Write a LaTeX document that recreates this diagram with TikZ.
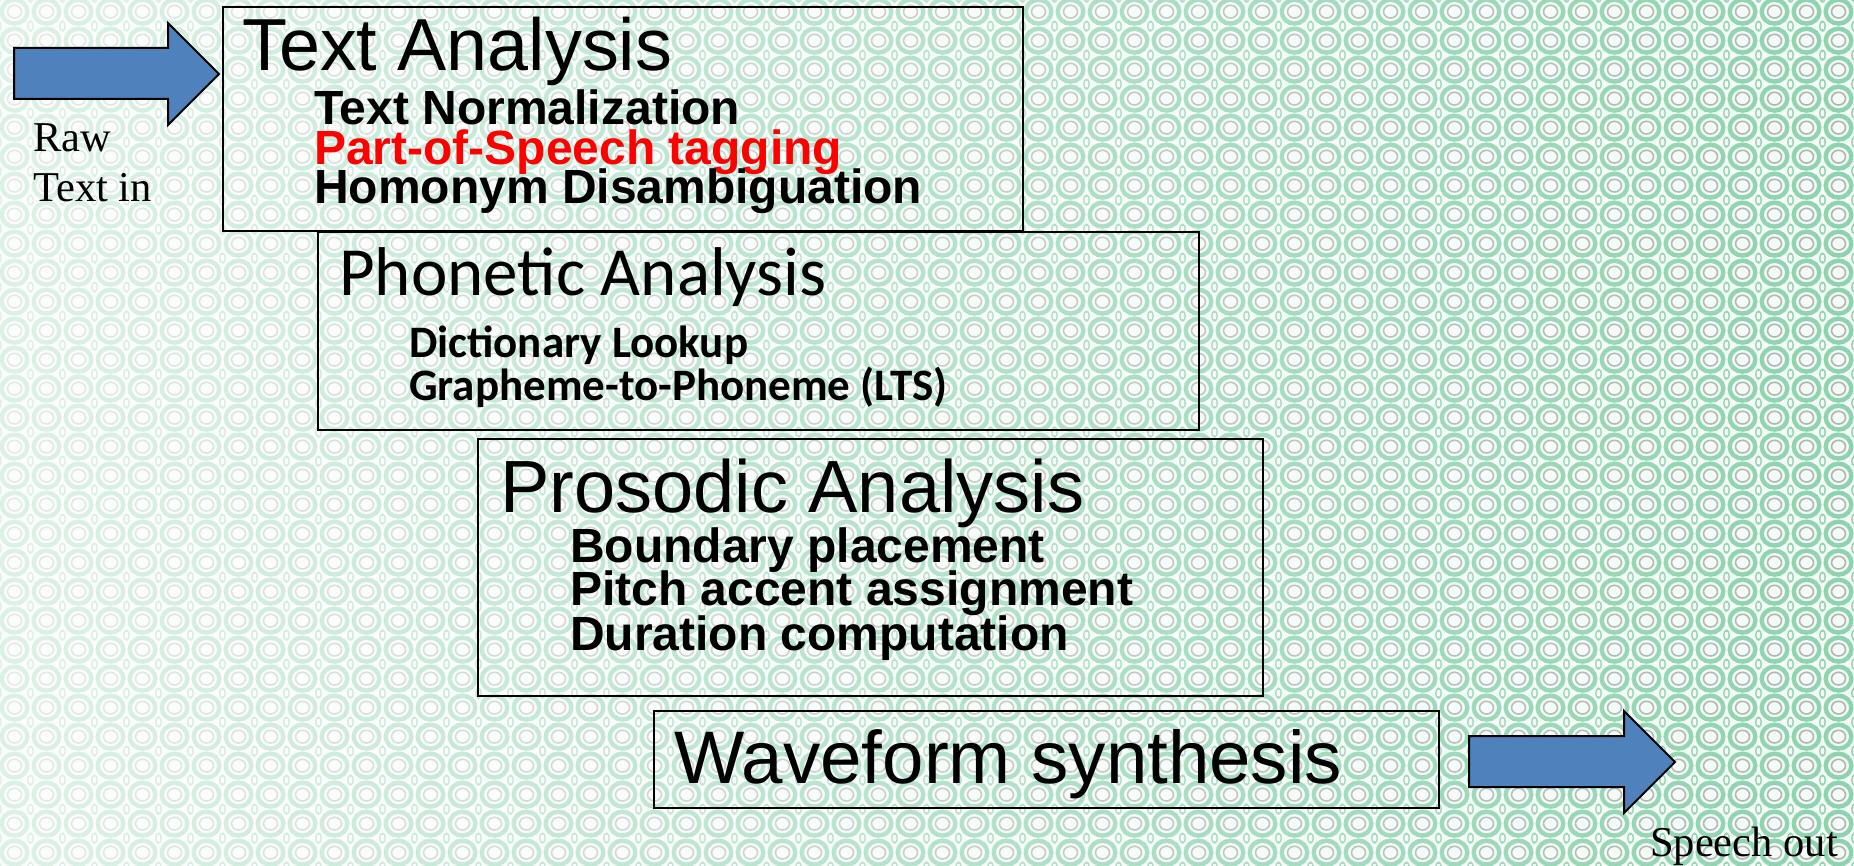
\documentclass[tikz,border=0pt]{standalone}
\usepackage{fontspec}
\usetikzlibrary{fadings,patterns}
\newfontfamily\arialf{Liberation Sans}
\newfontfamily\calibrif{Carlito}
\newfontfamily\timesf{Liberation Serif}
\definecolor{bgbase}{HTML}{F4FBF7}
\definecolor{ringgreen}{HTML}{8ED3AF}
\definecolor{ringgrey}{HTML}{AAB6B0}
\definecolor{arrowblue}{HTML}{4F81BD}
\definecolor{redtxt}{HTML}{FF0000}
\pgfdeclarepatterninherentlycolored{ringtile}{\pgfpointorigin}{\pgfpoint{32pt}{29.33pt}}{\pgfpoint{32pt}{29.33pt}}{%
  \pgfsetfillcolor{bgbase}%
  \pgfpathrectangle{\pgfpointorigin}{\pgfpoint{32pt}{29.33pt}}%
  \pgfusepath{fill}%
  \pgfsetstrokecolor{ringgreen}%
  \pgfsetlinewidth{4.5pt}%
  \pgfpathellipse{\pgfpoint{16pt}{14.665pt}}{\pgfpoint{13.2pt}{0pt}}{\pgfpoint{0pt}{12.2pt}}%
  \pgfusepath{stroke}%
  \pgfsetlinewidth{1.4pt}%
  \pgfpathellipse{\pgfpoint{0pt}{0pt}}{\pgfpoint{2.3pt}{0pt}}{\pgfpoint{0pt}{4.6pt}}%
  \pgfpathellipse{\pgfpoint{32pt}{0pt}}{\pgfpoint{2.3pt}{0pt}}{\pgfpoint{0pt}{4.6pt}}%
  \pgfpathellipse{\pgfpoint{0pt}{29.33pt}}{\pgfpoint{2.3pt}{0pt}}{\pgfpoint{0pt}{4.6pt}}%
  \pgfpathellipse{\pgfpoint{32pt}{29.33pt}}{\pgfpoint{2.3pt}{0pt}}{\pgfpoint{0pt}{4.6pt}}%
  \pgfusepath{stroke}%
  \pgfsetstrokecolor{ringgrey}%
  \pgfsetlinewidth{1.6pt}%
  \pgfpathellipse{\pgfpoint{16pt}{14.665pt}}{\pgfpoint{7.2pt}{0pt}}{\pgfpoint{0pt}{6.5pt}}%
  \pgfusepath{stroke}%
}
\tikzfading[name=bgfade, left color=transparent!30, right color=transparent!100]
\tikzset{
  box/.style={draw=black, line width=2pt, rectangle, inner sep=0pt, anchor=north west},
  lbl/.style={anchor=base west, inner sep=0pt},
  ttlA/.style={lbl, font={\arialf\fontsize{74}{74}\selectfont}},
  ttlC/.style={lbl, font={\calibrif\fontsize{69}{69}\selectfont}},
  subA/.style={lbl, font={\arialf\bfseries\fontsize{48}{48}\selectfont}},
  subC/.style={lbl, font={\calibrif\bfseries\fontsize{45}{45}\selectfont}},
  serif/.style={lbl, font={\timesf\fontsize{42.5}{42.5}\selectfont}},
  blockarrow/.style={fill=arrowblue, draw=black, line width=2pt, line join=miter}
}
\begin{document}
\begin{tikzpicture}[x=1pt, y=-1pt]
\useasboundingbox (0,0) rectangle (1854,866);
% background pattern
\fill[bgbase] (0,0) rectangle (1854,866);
\fill[pattern=ringtile] (0,0) rectangle (1854,866);
\fill[white, path fading=bgfade] (0,0) rectangle (1854,866);

% boxes
\node[box, minimum width=800pt, minimum height=224pt] (ta) at (222,6) {};
\node[box, minimum width=881pt, minimum height=198pt] (pa) at (317,231) {};
\node[box, minimum width=785pt, minimum height=257pt] (pr) at (477,438) {};
\node[box, minimum width=785pt, minimum height=97pt] (wf) at (653,710) {};

% texts
\node[ttlA, font={\arialf\fontsize{73.7}{73.7}\selectfont}] (tat) at (242,71) {Text Analysis};
\node[subA] (ta1) at (314,125) {Text Normalization};
\node[subA, text=redtxt] (ta2) at (314,165) {Part-of-Speech tagging};
\node[subA] (ta3) at (314,204) {Homonym Disambiguation};

\node[ttlC] (pat) at (339,296) {Phonetic Analysis};
\node[subC] (pa1) at (409,357) {Dictionary Lookup};
\node[subC] (pa2) at (409,400) {Grapheme-to-Phoneme (LTS)};

\node[ttlA] (prt) at (500,512) {Prosodic Analysis};
\node[subA] (pr1) at (570,562) {Boundary placement};
\node[subA] (pr2) at (570,605) {Pitch accent assignment};
\node[subA] (pr3) at (570,650) {Duration computation};

\node[ttlA, font={\arialf\fontsize{74.5}{74.5}\selectfont}] (wft) at (674,783) {Waveform synthesis};

\node[serif] (raw1) at (33,152) {Raw};
\node[serif] (raw2) at (33,202) {Text in};
\node[serif] (spo) at (1650,856) {Speech out};

% block arrows
\draw[blockarrow] (14,48) -- (168,48) -- (168,23) -- (219,74) -- (168,125) -- (168,99) -- (14,99) -- cycle;
\draw[blockarrow] (1469,736) -- (1624,736) -- (1624,711) -- (1675,762) -- (1624,813) -- (1624,787) -- (1469,787) -- cycle;
\end{tikzpicture}
\end{document}
